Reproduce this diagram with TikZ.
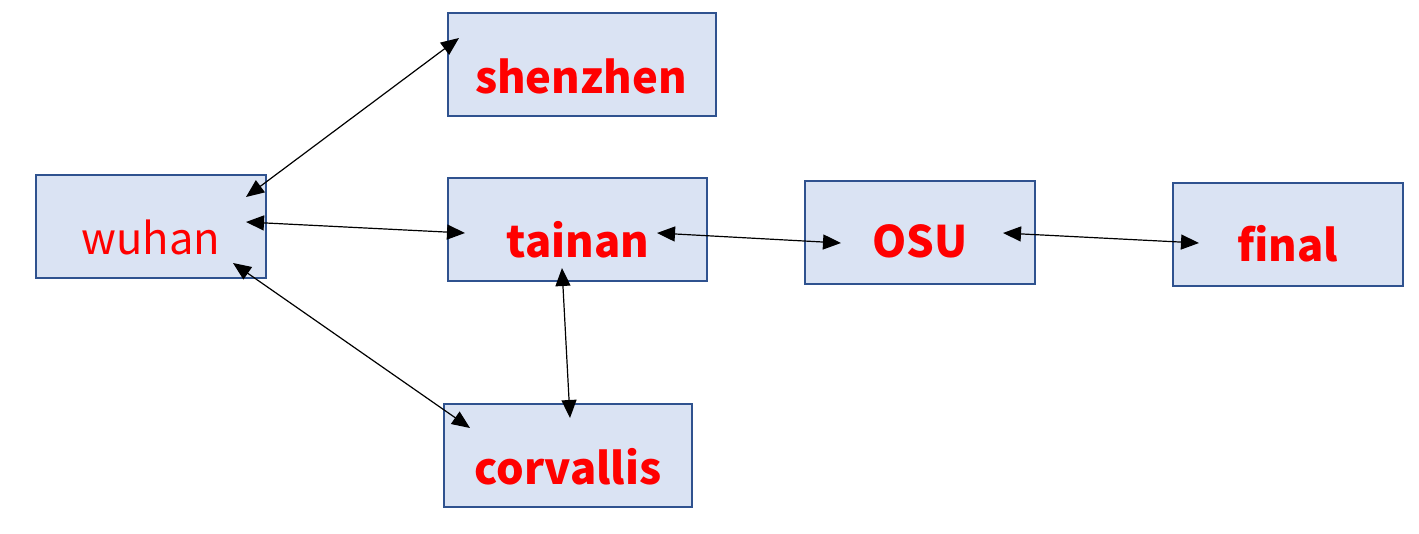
\documentclass[tikz,border=0pt]{standalone}
\usepackage{fontspec}
\newfontfamily\cjk{Noto Sans CJK SC}
\usetikzlibrary{arrows.meta,calc}
\definecolor{boxfill}{HTML}{DAE3F3}
\definecolor{boxdraw}{HTML}{2F528F}
\definecolor{txtred}{HTML}{FF0000}
\tikzset{
  box/.style={draw=boxdraw,fill=boxfill,line width=2.8pt,minimum height=103pt,inner sep=0pt},
  lbl/.style={inner sep=0pt,text=txtred,font=\cjk\fontsize{43.5}{50}\selectfont},
  blbl/.style={lbl,font=\cjk\bfseries\fontsize{43.5}{50}\selectfont},
  link/.style={line width=1.2pt,{Triangle[length=18pt,width=15pt]}-{Triangle[length=18pt,width=15pt]}}
}
\begin{document}
\begin{tikzpicture}[x=1pt,y=-1pt]
\useasboundingbox (0,0) rectangle (1419,533);
\node[box,minimum width=230pt] (wuhan) at (151,226.5) {};
\node[box,minimum width=268pt] (shenzhen) at (582,64.5) {};
\node[box,minimum width=259pt] (tainan) at (577.5,229.5) {};
\node[box,minimum width=230pt] (osu) at (920,232.5) {};
\node[box,minimum width=230pt] (final) at (1288,234.5) {};
\node[box,minimum width=248pt] (corvallis) at (568,455.5) {};
\node[lbl] (wuhanT) at (151,237) {wuhan};
\node[blbl] (shenzhenT) at (581,76) {shenzhen};
\node[blbl] (tainanT) at (578,240) {tainan};
\node[blbl] (osuT) at (920,241) {OSU};
\node[blbl] (finalT) at (1288,244) {final};
\node[blbl] (corvallisT) at (568,467) {corvallis};
\draw[link] ($(wuhan.center)+(95,-29.5)$) -- ($(shenzhen.center)+(-123,-26.5)$);
\draw[link] ($(wuhan.center)+(95,-4.5)$) -- ($(tainan.center)+(-112.5,3.5)$);
\draw[link] ($(wuhan.center)+(82,36.5)$) -- ($(corvallis.center)+(-98,-27.5)$);
\draw[link] ($(tainan.center)+(-15.5,38.5)$) -- ($(corvallis.center)+(2,-37.5)$);
\draw[link] ($(tainan.center)+(79.5,3.5)$) -- ($(osu.center)+(-79,10.5)$);
\draw[link] ($(osu.center)+(83,0.5)$) -- ($(final.center)+(-89,8.5)$);
\end{tikzpicture}
\end{document}
